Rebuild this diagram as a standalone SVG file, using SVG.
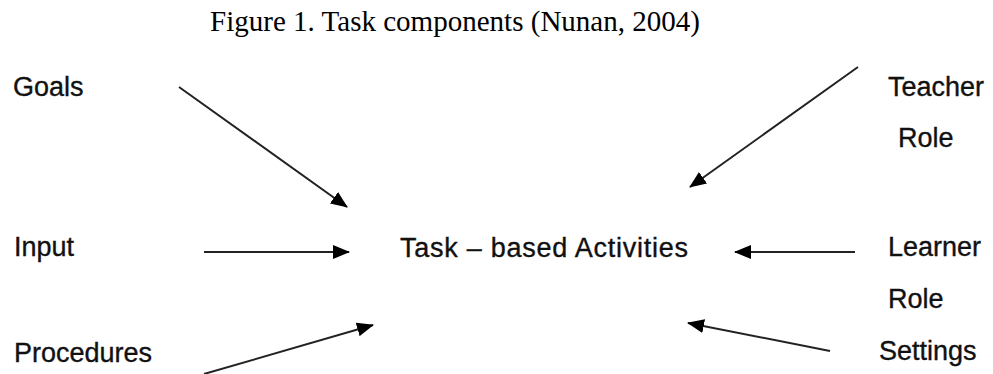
<svg xmlns="http://www.w3.org/2000/svg" width="993" height="374" viewBox="0 0 993 374">
  <style>
    .lbl { font-family: "Liberation Sans", Arial, sans-serif; font-size: 27px; fill: #111; stroke: #111; stroke-width: 0.35; }
    .title { font-family: "Liberation Serif", "Times New Roman", serif; font-size: 29px; fill: #000; }
    .conn { stroke: #222; stroke-width: 2; fill: none; marker-end: url(#ah); }
  </style>
  <defs>
    <marker id="ah" markerUnits="userSpaceOnUse" markerWidth="17" markerHeight="14" refX="16" refY="7" orient="auto">
      <path d="M0,0 L17,7 L0,14 z" fill="#000"/>
    </marker>
  </defs>
  <rect width="993" height="374" fill="#fff"/>
  <g id="title">
    <text class="title" x="210" y="31" textLength="490" lengthAdjust="spacingAndGlyphs">Figure 1. Task components (Nunan, 2004)</text>
  </g>
  <g id="goals"><text class="lbl" x="13" y="96">Goals</text></g>
  <g id="teacher-role"><text class="lbl" x="888" y="96">Teacher</text><text class="lbl" x="898" y="147">Role</text></g>
  <g id="input"><text class="lbl" x="14" y="256">Input</text></g>
  <g id="task"><text class="lbl" x="400" y="257" textLength="288" lengthAdjust="spacing">Task – based Activities</text></g>
  <g id="learner-role"><text class="lbl" x="888" y="256">Learner</text><text class="lbl" x="888" y="308">Role</text></g>
  <g id="procedures"><text class="lbl" x="14" y="362">Procedures</text></g>
  <g id="settings"><text class="lbl" x="879" y="360">Settings</text></g>
  <g id="connectors">
    <line class="conn" x1="179" y1="87" x2="347" y2="207"/>
    <line class="conn" x1="858" y1="67" x2="690" y2="187"/>
    <line class="conn" x1="204" y1="252" x2="349" y2="252"/>
    <line class="conn" x1="855" y1="252" x2="735" y2="252"/>
    <line class="conn" x1="204" y1="374" x2="373" y2="325"/>
    <line class="conn" x1="830" y1="351" x2="688" y2="323"/>
  </g>
</svg>
